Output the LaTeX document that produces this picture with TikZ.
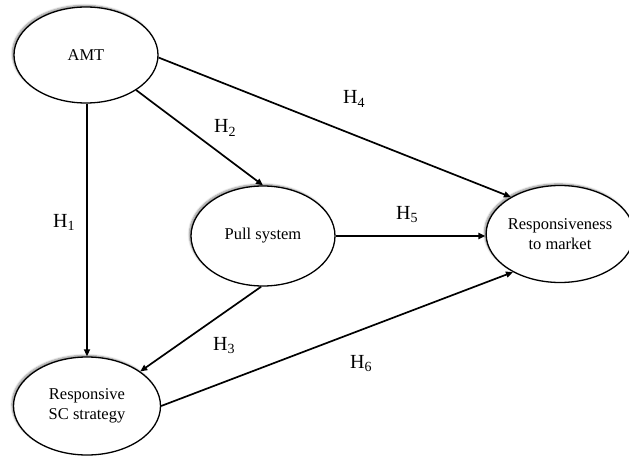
\documentclass[tikz,border=0pt]{standalone}
\usepackage{fontspec}
\setmainfont{Liberation Serif}
\usetikzlibrary{shapes.geometric,arrows.meta,shadows.blur}
\begin{document}
\begin{tikzpicture}[x=1pt,y=-1pt,
  construct/.style={ellipse,draw,line width=1.3pt,fill=white,inner sep=0pt,
    align=center,font=\fontsize{16.5}{20}\selectfont,
    blur shadow={shadow xshift=-1.6pt,shadow yshift=1.6pt,shadow blur steps=6,shadow opacity=45}},
  hyp/.style={-{Triangle[length=7pt,width=6pt]},line width=1.7pt},
  hlab/.style={anchor=base west,inner sep=0pt,font=\fontsize{20}{24}\selectfont}]
\useasboundingbox (0,0) rectangle (629,457);
\node[construct,minimum width=144pt,minimum height=96pt] (AMT) at (86,55) {AMT};
\node[construct,minimum width=144pt,minimum height=100pt] (pull) at (263,236) {Pull system};
\node[construct,minimum width=136pt,minimum height=97pt] (resp) at (560,234) {Responsiveness\\to market};
\node[construct,minimum width=147pt,minimum height=98pt] (sc) at (87,406) {Responsive\\SC strategy};
\draw[hyp] (AMT.south -| sc.north) -- (sc.north);
\draw[hyp] (AMT.-35) -- (pull.north);
\draw[hyp] (AMT.-2) -- (resp.143);
\draw[hyp] (pull.east) -- (resp.west |- pull.east);
\draw[hyp] (pull.-92) -- (sc.33);
\draw[hyp] (sc.east) -- (resp.-141);
\node[hlab] (h1) at (53,227) {H\textsubscript{1}};
\node[hlab] (h2) at (214,133) {H\textsubscript{2}};
\node[hlab] (h3) at (213,350) {H\textsubscript{3}};
\node[hlab] (h4) at (343,104) {H\textsubscript{4}};
\node[hlab] (h5) at (396,219) {H\textsubscript{5}};
\node[hlab] (h6) at (350,368) {H\textsubscript{6}};
\end{tikzpicture}
\end{document}
